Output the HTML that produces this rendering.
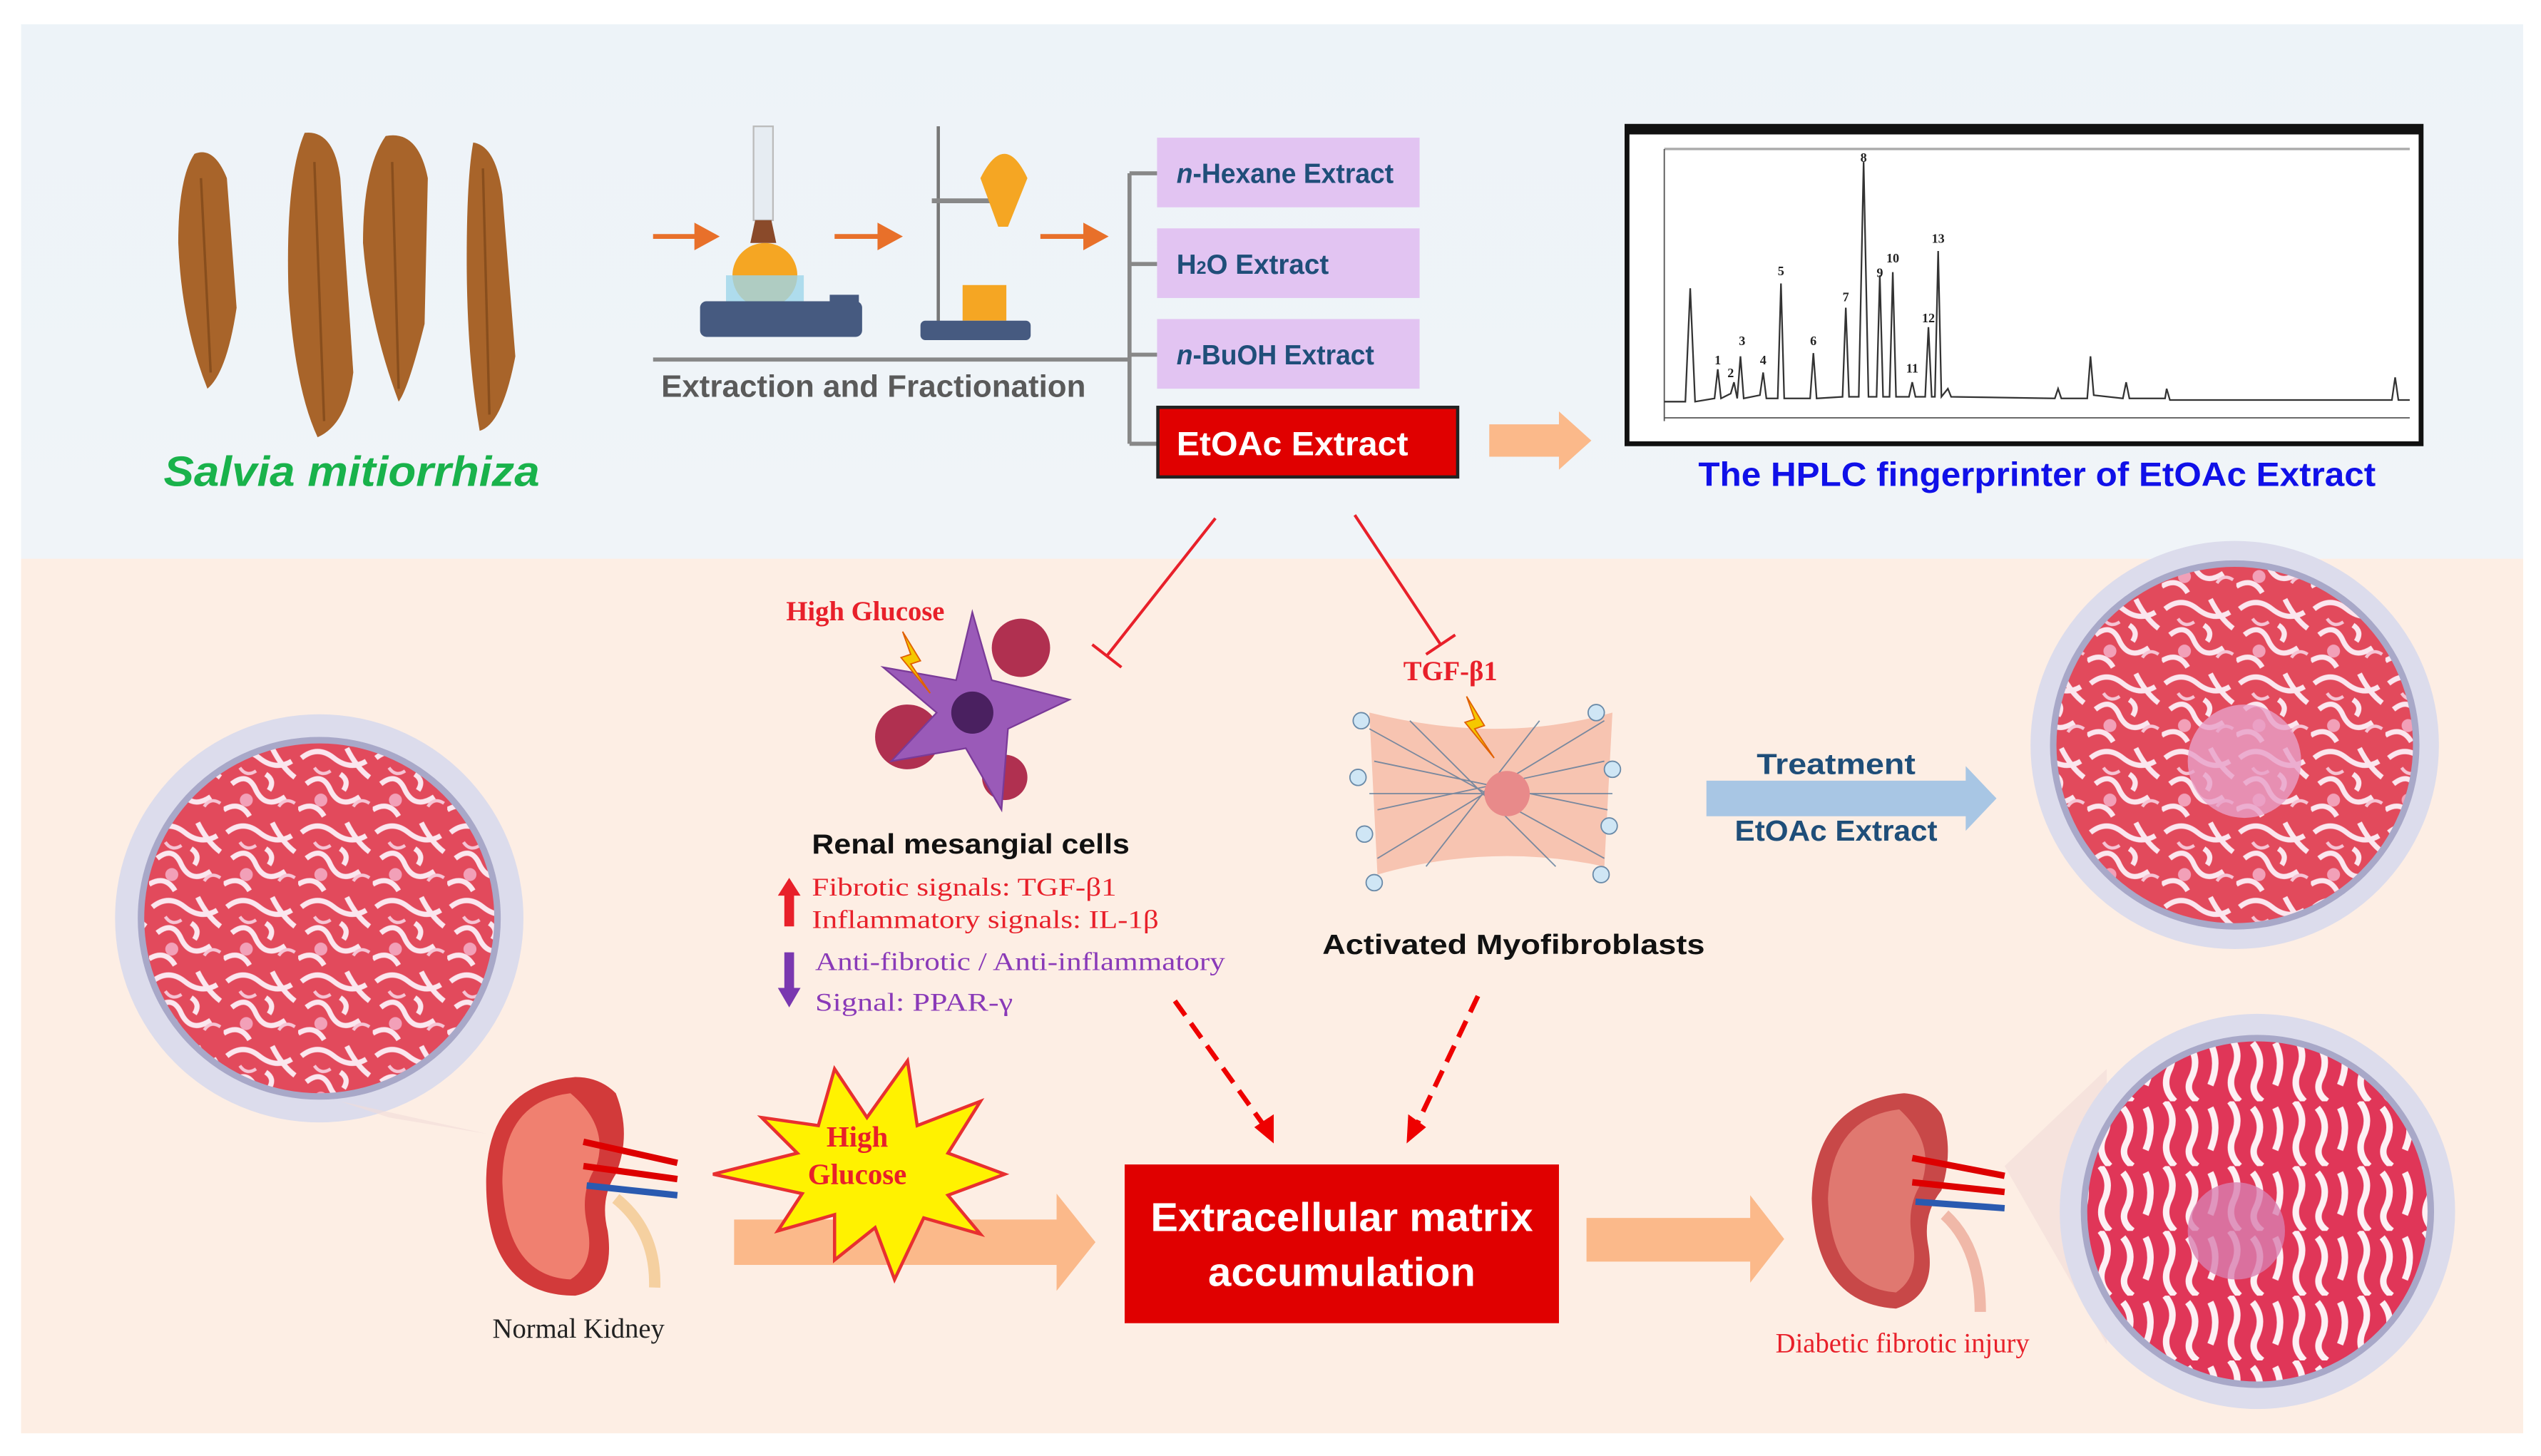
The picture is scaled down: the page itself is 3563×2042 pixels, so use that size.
<!DOCTYPE html>
<html><head><meta charset="utf-8"><style>
html,body{margin:0;padding:0;background:#fff;}
svg{display:block;}
</style></head><body>
<svg width="3563" height="2042" viewBox="0 0 1568 899" preserveAspectRatio="none" xmlns="http://www.w3.org/2000/svg" font-family="Liberation Sans, sans-serif">
<defs>
<linearGradient id="topbg" x1="0" y1="0" x2="0" y2="1"><stop offset="0" stop-color="#edf3f8"/><stop offset="1" stop-color="#f0f4f8"/></linearGradient>
<pattern id="tis" width="46" height="46" patternUnits="userSpaceOnUse">
<rect width="46" height="46" fill="#e24a5c"/>
<path d="M2 8 Q12 0 22 8 T42 10 M5 24 Q15 16 20 28 Q26 40 38 32 M0 40 Q10 34 16 44 M30 2 Q36 14 44 20 M26 18 q6 4 2 10" stroke="#fbe6ee" stroke-width="3.2" fill="none"/>
<path d="M10 14 q4 6 10 2 M34 38 q4 -6 10 -2" stroke="#f6c4d4" stroke-width="2" fill="none"/>
<circle cx="14" cy="34" r="4" fill="#f2a0b8"/>
</pattern>
<pattern id="tis2" width="40" height="40" patternUnits="userSpaceOnUse">
<rect width="40" height="40" fill="#e03658"/>
<path d="M4 4 Q10 16 4 30 M16 0 Q24 10 18 22 Q14 32 22 40 M30 4 Q38 14 32 26 Q28 34 36 40" stroke="#fdf0f4" stroke-width="4" fill="none"/>
</pattern>
<clipPath id="c1"><circle cx="197" cy="567" r="108"/></clipPath>
<clipPath id="c2"><circle cx="1379" cy="460" r="110"/></clipPath>
<clipPath id="c3"><circle cx="1393" cy="748" r="105"/></clipPath>
<marker id="ah" markerWidth="6" markerHeight="6" refX="3" refY="3" orient="auto" markerUnits="strokeWidth"><path d="M0 0 L6 3 L0 6z" fill="#e00"/></marker>
</defs>
<rect width="1568" height="899" fill="#fff"/>
<rect x="13" y="15" width="1544" height="330" fill="url(#topbg)"/>
<rect x="13" y="345" width="1544" height="540" fill="#fdeee4"/>

<!-- Salvia roots -->
<g fill="#a8642a">
<path d="M120 95 Q132 90 140 110 L146 190 Q140 230 128 240 Q112 200 110 150 Q110 110 120 95z"/>
<path d="M188 82 Q206 80 210 110 L218 230 Q214 262 196 270 Q182 240 178 180 Q176 110 188 82z"/>
<path d="M238 84 Q258 80 264 110 L262 200 Q252 240 246 248 Q228 200 224 150 Q224 104 238 84z"/>
<path d="M292 88 Q306 90 310 120 L318 220 Q310 262 296 266 Q288 220 288 160 Q288 110 292 88z"/>
</g>
<g stroke="#7a4418" stroke-width="1.5" fill="none" opacity=".7">
<path d="M124 110 L130 230 M194 100 L200 260 M242 100 L246 240 M298 104 L302 256"/>
</g>
<text x="217" y="300" text-anchor="middle" font-size="26" font-weight="bold" font-style="italic" fill="#19b24b" textLength="232" lengthAdjust="spacingAndGlyphs">Salvia mitiorrhiza</text>

<!-- lab equipment -->
<g stroke="#e8702a" stroke-width="3" fill="#e8702a">
<line x1="403" y1="146" x2="432" y2="146"/><path d="M430 140 L441 146 L430 152z"/>
<line x1="515" y1="146" x2="545" y2="146"/><path d="M543 140 L554 146 L543 152z"/>
<line x1="642" y1="146" x2="672" y2="146"/><path d="M670 140 L681 146 L670 152z"/>
</g>
<rect x="465" y="78" width="12" height="58" fill="#e6ecf2" stroke="#bbb"/>
<path d="M466 136 h10 l3 14 h-16z" fill="#8a4a2a"/>
<circle cx="472" cy="170" r="20" fill="#f5a623"/>
<rect x="448" y="170" width="48" height="22" fill="#9ed6ea" opacity=".8"/>
<rect x="432" y="186" width="100" height="22" rx="4" fill="#465a80"/>
<rect x="512" y="182" width="18" height="22" fill="#465a80"/>
<line x1="579" y1="78" x2="579" y2="205" stroke="#777" stroke-width="2"/>
<line x1="575" y1="124" x2="620" y2="124" stroke="#888" stroke-width="3"/>
<path d="M605 110 Q620 80 634 110 L622 140 L616 140z" fill="#f5a623"/>
<rect x="594" y="176" width="27" height="22" fill="#f5a623"/>
<rect x="568" y="198" width="68" height="12" rx="3" fill="#465a80"/>
<line x1="403" y1="222" x2="697" y2="222" stroke="#888" stroke-width="2.5"/>
<text x="539" y="245" text-anchor="middle" font-size="19" font-weight="bold" fill="#5a5a5a" textLength="262" lengthAdjust="spacingAndGlyphs">Extraction and Fractionation</text>

<!-- bracket -->
<g stroke="#888" stroke-width="2.5" fill="none">
<line x1="697" y1="107" x2="697" y2="274"/>
<line x1="697" y1="107" x2="714" y2="107"/><line x1="697" y1="163" x2="714" y2="163"/>
<line x1="697" y1="219" x2="714" y2="219"/><line x1="697" y1="274" x2="714" y2="274"/>
</g>
<g font-size="17" font-weight="bold" fill="#1f4e79">
<rect x="714" y="85" width="162" height="43" fill="#e2c4f2"/>
<text x="726" y="113" textLength="134" lengthAdjust="spacingAndGlyphs"><tspan font-style="italic">n</tspan>-Hexane Extract</text>
<rect x="714" y="141" width="162" height="43" fill="#e2c4f2"/>
<text x="726" y="169">H<tspan font-size="11">2</tspan>O Extract</text>
<rect x="714" y="197" width="162" height="43" fill="#e2c4f2"/>
<text x="726" y="225" textLength="122" lengthAdjust="spacingAndGlyphs"><tspan font-style="italic">n</tspan>-BuOH Extract</text>
</g>
<rect x="714.5" y="251.5" width="185" height="43" fill="#e00000" stroke="#222" stroke-width="2"/>
<text x="726" y="281" font-size="21" font-weight="bold" fill="#fff" textLength="143" lengthAdjust="spacingAndGlyphs">EtOAc Extract</text>
<path d="M919 262 H962 V254 L982 272 L962 290 V282 H919z" fill="#fbb98a"/>

<!-- HPLC -->
<rect x="1004" y="78" width="490" height="196" fill="#fff" stroke="#111" stroke-width="3"/>
<rect x="1004" y="77" width="490" height="6" fill="#111"/>
<line x1="1027" y1="92" x2="1487" y2="92" stroke="#aaa" stroke-width="1.5"/>
<line x1="1027" y1="92" x2="1027" y2="260" stroke="#555" stroke-width=".8"/>
<line x1="1027" y1="258" x2="1487" y2="258" stroke="#555" stroke-width=".8"/>
<path d="M1027 248 L1040 248 L1043 178 L1046 248 L1058 246 L1060 228 L1062 246 L1068 243 L1070 236 L1072 246 L1074 220 L1076 246 L1086 244 L1088 230 L1090 246 L1097 246 L1099 175 L1101 246 L1117 246 L1119 218 L1121 246 L1137 245 L1139 190 L1141 245 L1147 245 L1150 100 L1153 245 L1158 245 L1160 170 L1162 245 L1166 245 L1168 168 L1170 245 L1178 245 L1180 236 L1182 245 L1188 245 L1190 202 L1192 245 L1194 245 L1196 155 L1198 245 L1202 240 L1204 245 L1268 246 L1270 240 L1272 246 L1288 246 L1290 220 L1292 244 L1310 246 L1312 236 L1314 246 L1336 246 L1337 240 L1339 247 L1476 247 L1478 233 L1480 247 L1487 247" stroke="#333" stroke-width="1" fill="none"/>
<g font-family="Liberation Serif, serif" font-size="8" font-weight="bold" fill="#222" text-anchor="middle">
<text x="1060" y="225">1</text><text x="1068" y="233">2</text><text x="1075" y="213">3</text><text x="1088" y="225">4</text><text x="1099" y="170">5</text><text x="1119" y="213">6</text><text x="1139" y="186">7</text><text x="1150" y="100">8</text><text x="1160" y="171">9</text><text x="1168" y="162">10</text><text x="1180" y="230">11</text><text x="1190" y="199">12</text><text x="1196" y="150">13</text>
</g>
<text x="1257" y="300" text-anchor="middle" font-size="21" font-weight="bold" fill="#1010e8" textLength="418" lengthAdjust="spacingAndGlyphs">The HPLC fingerprinter of EtOAc Extract</text>

<!-- inhibition lines -->
<g stroke="#e8202a" stroke-width="1.8">
<line x1="750" y1="320" x2="683" y2="405"/><line x1="674" y1="398" x2="692" y2="412"/>
<line x1="836" y1="318" x2="889" y2="398"/><line x1="880" y1="404" x2="898" y2="392"/>
</g>

<!-- mesangial cell -->
<text x="534" y="383" text-anchor="middle" font-family="Liberation Serif, serif" font-size="17" font-weight="bold" fill="#e8202a">High Glucose</text>
<circle cx="560" cy="455" r="20" fill="#b03050"/>
<circle cx="630" cy="400" r="18" fill="#b03050"/>
<circle cx="620" cy="480" r="14" fill="#b03050"/>
<path d="M600 378 L612 420 L660 432 L622 450 L618 500 L596 462 L550 470 L578 440 L545 412 L590 420z" fill="#9a5ab8" stroke="#7a3a98"/>
<circle cx="600" cy="440" r="13" fill="#4a2060"/>
<path d="M557 390 L568 408 L562 410 L574 428 L556 406 L562 404z" fill="#f5c800" stroke="#e06000" stroke-width=".8"/>
<text x="599" y="527" text-anchor="middle" font-size="17" font-weight="bold" fill="#111" textLength="196" lengthAdjust="spacingAndGlyphs">Renal mesangial cells</text>
<path d="M487 542 L494 553 H490 V572 H484 V553 H480z" fill="#e8202a"/>
<g font-family="Liberation Serif, serif" font-size="16">
<text x="501" y="553" fill="#e8202a" textLength="188" lengthAdjust="spacingAndGlyphs">Fibrotic signals: TGF-β1</text>
<text x="501" y="573" fill="#e8202a" textLength="214" lengthAdjust="spacingAndGlyphs">Inflammatory signals: IL-1β</text>
<text x="503" y="599" fill="#8a3ab8" textLength="253" lengthAdjust="spacingAndGlyphs">Anti-fibrotic / Anti-inflammatory</text>
<text x="503" y="624" fill="#8a3ab8" textLength="122" lengthAdjust="spacingAndGlyphs">Signal: PPAR-γ</text>
</g>
<path d="M484 588 H490 V610 H494 L487 622 L480 610 H484z" fill="#7a38b0"/>

<!-- myofibroblast -->
<text x="895" y="420" text-anchor="middle" font-family="Liberation Serif, serif" font-size="17" font-weight="bold" fill="#e8202a">TGF-β1</text>
<path d="M845 440 Q925 460 995 440 L990 535 Q920 520 850 540z" fill="#f6bca8" opacity=".85"/>
<g stroke="#5a7a9a" stroke-width=".8" opacity=".8">
<path d="M845 450 L990 530 M850 530 L990 445 M848 470 L992 500 M850 500 L990 470 M870 445 L960 535 M950 445 L880 535 M845 490 L995 490"/>
</g>
<circle cx="930" cy="490" r="14" fill="#e88a8a"/>
<g fill="#cfe6f5" stroke="#6a8aa8" stroke-width=".8">
<circle cx="840" cy="445" r="5"/><circle cx="838" cy="480" r="5"/><circle cx="842" cy="515" r="5"/><circle cx="848" cy="545" r="5"/>
<circle cx="985" cy="440" r="5"/><circle cx="995" cy="475" r="5"/><circle cx="993" cy="510" r="5"/><circle cx="988" cy="540" r="5"/>
</g>
<path d="M905 430 L916 448 L910 450 L922 468 L904 446 L910 444z" fill="#f5c800" stroke="#e06000" stroke-width=".8"/>
<text x="934" y="589" text-anchor="middle" font-size="17" font-weight="bold" fill="#111" textLength="236" lengthAdjust="spacingAndGlyphs">Activated Myofibroblasts</text>

<!-- treatment -->
<path d="M1053 482 H1213 V473 L1232 493 L1213 513 V504 H1053z" fill="#a8c6e4"/>
<text x="1133" y="478" text-anchor="middle" font-size="18" font-weight="bold" fill="#1f4e79" textLength="98" lengthAdjust="spacingAndGlyphs">Treatment</text>
<text x="1133" y="519" text-anchor="middle" font-size="18" font-weight="bold" fill="#1f4e79" textLength="125" lengthAdjust="spacingAndGlyphs">EtOAc Extract</text>

<!-- circles -->
<circle cx="197" cy="567" r="126" fill="#dcdcec"/><circle cx="197" cy="567" r="112" fill="#a8a8c8"/>
<g clip-path="url(#c1)"><rect x="80" y="450" width="240" height="240" fill="url(#tis)"/></g>
<circle cx="1379" cy="460" r="126" fill="#dcdcec"/><circle cx="1379" cy="460" r="114" fill="#a8a8c8"/>
<g clip-path="url(#c2)"><rect x="1260" y="340" width="240" height="240" fill="url(#tis)"/><circle cx="1385" cy="470" r="35" fill="#e8a0c8" opacity=".8"/></g>
<path d="M1237 720 L1300 660 L1300 830z" fill="#f2dcd8" opacity=".6"/>
<path d="M300 700 L210 680 L240 690z" fill="#f2dcd8" opacity=".6"/>
<circle cx="1393" cy="748" r="122" fill="#dcdcec"/><circle cx="1393" cy="748" r="109" fill="#a8a8c8"/>
<g clip-path="url(#c3)"><rect x="1280" y="630" width="230" height="240" fill="url(#tis2)"/><circle cx="1380" cy="760" r="30" fill="#d880b0" opacity=".8"/></g>

<!-- dashed arrows -->
<g stroke="#e00" stroke-width="3" stroke-dasharray="11 6" fill="none">
<line x1="725" y1="618" x2="780" y2="695"/>
<line x1="912" y1="615" x2="874" y2="695"/>
</g>
<path d="M774 696 L786 706 L786 688z" fill="#e00"/>
<path d="M869 688 L868 706 L880 696z" fill="#e00"/>

<!-- kidneys -->
<path d="M355 665 Q300 670 300 730 Q300 800 355 800 Q380 795 375 760 Q370 740 380 725 Q390 700 380 675 Q370 665 355 665z" fill="#d23a3a"/>
<path d="M352 675 Q310 680 310 730 Q312 788 352 790 Q368 780 362 755 Q358 735 368 720 Q376 695 352 675z" fill="#f08070"/>
<path d="M360 705 L418 718 M360 720 L418 728" stroke="#d00" stroke-width="4"/><path d="M362 732 L418 738" stroke="#2a5ab0" stroke-width="4"/>
<path d="M380 740 Q405 760 404 795" stroke="#f5d0a0" stroke-width="7" fill="none"/>
<text x="357" y="826" text-anchor="middle" font-family="Liberation Serif, serif" font-size="17" fill="#222">Normal Kidney</text>

<path d="M1175 675 Q1120 680 1118 740 Q1120 805 1170 808 Q1195 800 1190 770 Q1186 750 1198 735 Q1206 710 1198 688 Q1190 676 1175 675z" fill="#c84848"/>
<path d="M1172 685 Q1130 690 1128 740 Q1130 795 1170 798 Q1185 788 1180 765 Q1176 745 1186 730 Q1194 705 1172 685z" fill="#e07870"/>
<path d="M1180 715 L1237 726 M1180 730 L1237 736" stroke="#d00" stroke-width="4"/><path d="M1182 742 L1237 746" stroke="#2a5ab0" stroke-width="4"/>
<path d="M1200 750 Q1222 770 1222 810" stroke="#f0b8a8" stroke-width="7" fill="none"/>
<text x="1174" y="835" text-anchor="middle" font-family="Liberation Serif, serif" font-size="17" fill="#e8202a">Diabetic fibrotic injury</text>

<!-- big arrows -->
<path d="M453 753 H652 V737 L676 767 L652 797 V781 H453z" fill="#fbb98a"/>
<path d="M979 752 H1080 V738 L1101 765 L1080 792 V779 H979z" fill="#fbb98a"/>
<!-- starburst -->
<polygon points="560,655 566,695 605,680 585,712 620,725 585,738 605,762 570,752 552,790 540,758 515,778 515,750 480,760 495,737 440,725 492,712 470,690 505,695 515,660 535,690" fill="#fff200" stroke="#e83030" stroke-width="2"/>
<text x="529" y="708" text-anchor="middle" font-family="Liberation Serif, serif" font-size="18" font-weight="bold" fill="#e8202a">High</text>
<text x="529" y="731" text-anchor="middle" font-family="Liberation Serif, serif" font-size="18" font-weight="bold" fill="#e8202a">Glucose</text>

<!-- ECM -->
<rect x="694" y="719" width="268" height="98" fill="#e00000"/>
<text x="828" y="760" text-anchor="middle" font-size="25" font-weight="bold" fill="#fff" textLength="236" lengthAdjust="spacingAndGlyphs">Extracellular matrix</text>
<text x="828" y="794" text-anchor="middle" font-size="25" font-weight="bold" fill="#fff" textLength="165" lengthAdjust="spacingAndGlyphs">accumulation</text>
</svg>
</body></html>
